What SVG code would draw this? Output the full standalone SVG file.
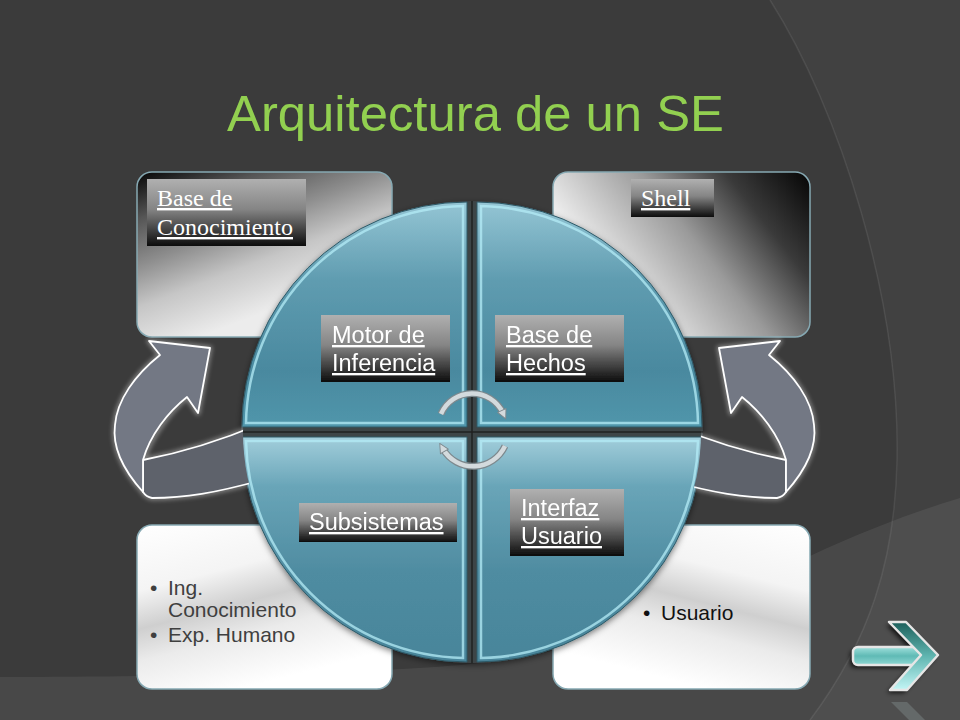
<svg xmlns="http://www.w3.org/2000/svg" width="960" height="720" viewBox="0 0 960 720">
<defs>
<style>
.lbl{font-family:"Liberation Sans",Arial,sans-serif;font-size:23.5px;fill:#ffffff;text-decoration:underline}
.lbls{font-family:"Liberation Serif","Times New Roman",serif;font-size:24px;fill:#ffffff;text-decoration:underline}
.body{font-family:"Liberation Sans",Arial,sans-serif;font-size:21px}
.box{stroke:#86a9b3;stroke-width:1.5}
.quad{stroke:#2e5a68;stroke-width:1}
.bevel{fill:none;stroke:#b4ecf7;stroke-opacity:0.75;stroke-width:2.5}
.arrA{fill:#737884;stroke:#ffffff;stroke-width:1.8;stroke-linejoin:round}
.arrB{fill:#5e626b;stroke:#ffffff;stroke-width:1.8;stroke-linejoin:round}
.halo{fill:none;stroke:#ffffff;stroke-opacity:0.35;stroke-width:5;stroke-linejoin:round}
.cyc-under{fill:none;stroke:#7d898e;stroke-width:7}
.cyc{fill:none;stroke:#d3dadd;stroke-width:4.5}
</style>
<linearGradient id="gTL" gradientUnits="userSpaceOnUse" x1="137" y1="172" x2="200" y2="337">
<stop offset="0" stop-color="#050505"/><stop offset="0.25" stop-color="#555"/><stop offset="0.5" stop-color="#8e8e8e"/><stop offset="0.72" stop-color="#c6c6c6"/><stop offset="1" stop-color="#ececec"/>
</linearGradient>
<linearGradient id="gTR" gradientUnits="userSpaceOnUse" x1="810" y1="172" x2="600" y2="337">
<stop offset="0" stop-color="#050505"/><stop offset="0.25" stop-color="#3a3a3a"/><stop offset="0.5" stop-color="#9a9a9a"/><stop offset="0.85" stop-color="#f0f0f0"/><stop offset="1" stop-color="#fafafa"/>
</linearGradient>
<linearGradient id="gBL" x1="0" y1="0" x2="0.4" y2="1">
<stop offset="0" stop-color="#ffffff"/><stop offset="0.35" stop-color="#f4f4f4"/><stop offset="0.55" stop-color="#cfcfcf"/><stop offset="0.72" stop-color="#ebebeb"/><stop offset="1" stop-color="#ffffff"/>
</linearGradient>
<linearGradient id="gBR" x1="1" y1="0" x2="0.6" y2="1">
<stop offset="0" stop-color="#ffffff"/><stop offset="0.35" stop-color="#f4f4f4"/><stop offset="0.55" stop-color="#cfcfcf"/><stop offset="0.72" stop-color="#ebebeb"/><stop offset="1" stop-color="#ffffff"/>
</linearGradient>
<linearGradient id="gQT" x1="0" y1="0" x2="0" y2="1">
<stop offset="0" stop-color="#94c5d4"/><stop offset="0.35" stop-color="#5f9cb0"/><stop offset="0.75" stop-color="#4a899f"/><stop offset="1" stop-color="#5096ab"/>
</linearGradient>
<linearGradient id="gQB" x1="0" y1="0" x2="0" y2="1">
<stop offset="0" stop-color="#a2cedb"/><stop offset="0.22" stop-color="#69a5b8"/><stop offset="0.6" stop-color="#4f8ca1"/><stop offset="1" stop-color="#48859a"/>
</linearGradient>
<linearGradient id="gLbl" x1="0" y1="0" x2="0" y2="1">
<stop offset="0" stop-color="#b0b0b0"/><stop offset="0.45" stop-color="#858585"/><stop offset="1" stop-color="#0c0c0c"/>
</linearGradient>
<linearGradient id="gShaft" x1="0" y1="0" x2="0" y2="1">
<stop offset="0" stop-color="#9fe0dc"/><stop offset="0.5" stop-color="#5fbab5"/><stop offset="1" stop-color="#8fd8d4"/>
</linearGradient>
<linearGradient id="gChev" x1="0" y1="0" x2="0" y2="1">
<stop offset="0" stop-color="#1c5f5b"/><stop offset="0.5" stop-color="#5fb5b0"/><stop offset="1" stop-color="#c4f6f6"/>
</linearGradient>
<filter id="blur2" x="-20%" y="-20%" width="140%" height="140%"><feGaussianBlur stdDeviation="2"/></filter>
<filter id="shadow" x="-10%" y="-10%" width="120%" height="120%"><feDropShadow dx="0" dy="2" stdDeviation="3" flood-color="#000" flood-opacity="0.5"/></filter>
<mask id="outside" maskUnits="userSpaceOnUse" x="0" y="0" width="960" height="720">
<rect x="0" y="0" width="960" height="720" fill="#fff"/>
<circle cx="472" cy="432" r="229" fill="#000"/>
</mask>
<marker id="cycHead" markerUnits="userSpaceOnUse" viewBox="0 0 12 12" markerWidth="11" markerHeight="11" refX="4" refY="6" orient="auto">
<path d="M1,1 L11,6 L1,11 Z" fill="#d3dadd" stroke="#7d898e" stroke-width="1"/>
</marker>
</defs>

<g id="background">
<rect x="0" y="0" width="960" height="720" fill="#3b3b3b"/>
<path d="M770,0 C840,110 900,300 897,460 C895,560 870,640 810,720 L960,720 L960,0 Z" fill="#ffffff" fill-opacity="0.035"/>
<path d="M770,0 C840,110 900,300 897,460 C895,560 870,640 810,720" fill="none" stroke="#ffffff" stroke-opacity="0.08" stroke-width="1.5"/>
<path d="M0,677 C250,676 400,672 480,663 C600,650 720,600 810,556 C870,528 920,510 960,498 L960,720 L0,720 Z" fill="#ffffff" fill-opacity="0.07"/>
</g>

<g id="box-base-conocimiento">
<rect class="box" x="137" y="172" width="255" height="165" rx="15" fill="url(#gTL)"/>
<rect x="147" y="179" width="159" height="67" fill="url(#gLbl)"/>
<text class="lbls" x="157" y="206">Base de</text>
<text class="lbls" x="157" y="235">Conocimiento</text>
</g>

<g id="box-shell">
<rect class="box" x="553" y="172" width="257" height="165" rx="15" fill="url(#gTR)"/>
<rect x="631" y="179" width="83" height="38" fill="url(#gLbl)"/>
<text class="lbls" x="641" y="206">Shell</text>
</g>

<g id="box-ing-exp">
<rect class="box" x="137" y="525" width="255" height="164" rx="15" fill="url(#gBL)"/>
<text class="body" fill="#3f3f3f" x="150" y="595">•</text>
<text class="body" fill="#3f3f3f" x="168" y="595">Ing.</text>
<text class="body" fill="#3f3f3f" x="168" y="617">Conocimiento</text>
<text class="body" fill="#3f3f3f" x="150" y="642">•</text>
<text class="body" fill="#3f3f3f" x="168" y="642">Exp. Humano</text>
</g>

<g id="box-usuario">
<rect class="box" x="553" y="525" width="257" height="164" rx="15" fill="url(#gBR)"/>
<text class="body" fill="#111111" x="643" y="620">•</text>
<text class="body" fill="#111111" x="661" y="620">Usuario</text>
</g>

<g id="circle" filter="url(#shadow)">
<circle cx="472" cy="432" r="231" fill="#3e4447"/>
<path d="M472,201 V663 M241,432 H703" stroke="#222" stroke-width="1.5"/>
<g id="q-motor">
<path class="quad" d="M467,427 L242,427 A225,225 0 0,1 467,202 Z" fill="url(#gQT)"/>
<path class="bevel" d="M463,423 L246,423 A221,221 0 0,1 463,206 Z"/>
<rect x="321" y="315" width="129" height="67" fill="url(#gLbl)"/>
<text class="lbl" x="332" y="343">Motor de</text>
<text class="lbl" x="332" y="371">Inferencia</text>
</g>
<g id="q-hechos">
<path class="quad" d="M477,427 L477,202 A225,225 0 0,1 702,427 Z" fill="url(#gQT)"/>
<path class="bevel" d="M481,423 L481,206 A221,221 0 0,1 698,423 Z"/>
<rect x="495" y="315" width="129" height="67" fill="url(#gLbl)"/>
<text class="lbl" x="506" y="343">Base de</text>
<text class="lbl" x="506" y="371">Hechos</text>
</g>
<g id="q-subsistemas">
<path class="quad" d="M467,437 L467,662 A225,225 0 0,1 242,437 Z" fill="url(#gQB)"/>
<path class="bevel" d="M463,441 L463,658 A221,221 0 0,1 246,441 Z"/>
<rect x="299" y="503" width="158" height="39" fill="url(#gLbl)"/>
<text class="lbl" x="309" y="530">Subsistemas</text>
</g>
<g id="q-interfaz">
<path class="quad" d="M477,437 L702,437 A225,225 0 0,1 477,662 Z" fill="url(#gQB)"/>
<path class="bevel" d="M481,441 L698,441 A221,221 0 0,1 481,658 Z"/>
<rect x="510" y="489" width="114" height="67" fill="url(#gLbl)"/>
<text class="lbl" x="521" y="516">Interfaz</text>
<text class="lbl" x="521" y="544">Usuario</text>
</g>
</g>

<g id="connectors">
<g id="side-arrows" mask="url(#outside)">
<g id="arrow-left">
<path class="halo" filter="url(#blur2)" d="M143,460 C180,453 215,443 260,424 L262,480 C215,493 185,498 152,498 C147,497 145,495 143,492 C125,472 112,448 115,425 C117,400 135,375 160,355 L149,341 L210,348 L198,413 L187,397 C170,412 152,435 143,460 Z"/>
<path class="arrB" d="M143,460 C180,453 215,443 260,424 L262,480 C215,493 185,498 152,498 C147,497 145,495 143,492 Z"/>
<path class="arrA" d="M143,460 C150,435 168,412 187,397 L198,413 L210,348 L149,341 L160,355 C135,375 117,400 115,425 C112,448 125,472 143,492 Z"/>
</g>
<g id="arrow-right" transform="translate(929,0) scale(-1,1)">
<path class="halo" filter="url(#blur2)" d="M143,460 C180,453 215,443 260,424 L262,480 C215,493 185,498 152,498 C147,497 145,495 143,492 C125,472 112,448 115,425 C117,400 135,375 160,355 L149,341 L210,348 L198,413 L187,397 C170,412 152,435 143,460 Z"/>
<path class="arrB" d="M143,460 C180,453 215,443 260,424 L262,480 C215,493 185,498 152,498 C147,497 145,495 143,492 Z"/>
<path class="arrA" d="M143,460 C150,435 168,412 187,397 L198,413 L210,348 L149,341 L160,355 C135,375 117,400 115,425 C112,448 125,472 143,492 Z"/>
</g>
</g>
<g id="cycle-arrows">
<path class="cyc-under" d="M441,414 A34,34 0 0,1 503,413"/>
<path class="cyc" d="M441,414 A34,34 0 0,1 503,413" marker-end="url(#cycHead)"/>
<path class="cyc-under" d="M505,446 A35,35 0 0,1 443,449"/>
<path class="cyc" d="M505,446 A35,35 0 0,1 443,449" marker-end="url(#cycHead)"/>
</g>
</g>

<g id="title">
<text x="227" y="131" textLength="497" lengthAdjust="spacingAndGlyphs" font-family="'Liberation Sans', Arial, sans-serif" font-size="50" fill="#92d050">Arquitectura de un SE</text>
</g>

<g id="nav-next">
<g transform="translate(-3,3)" fill="#000" opacity="0.7" filter="url(#blur2)">
<rect x="853" y="647" width="70" height="18" rx="5"/>
<polygon points="889,622 906,622 938,655 907,690 890,690 921,655"/>
</g>
<rect x="853" y="647" width="70" height="18" rx="5" fill="url(#gShaft)" stroke="#e6e6e6" stroke-width="2.5"/>
<polygon points="889,622 906,622 938,655 907,690 890,690 921,655" fill="url(#gChev)" stroke="#e6e6e6" stroke-width="2.5" stroke-linejoin="round"/>
<polygon points="891,702 907,702 925,720 909,720" fill="#9aa" opacity="0.3"/>
</g>
</svg>
